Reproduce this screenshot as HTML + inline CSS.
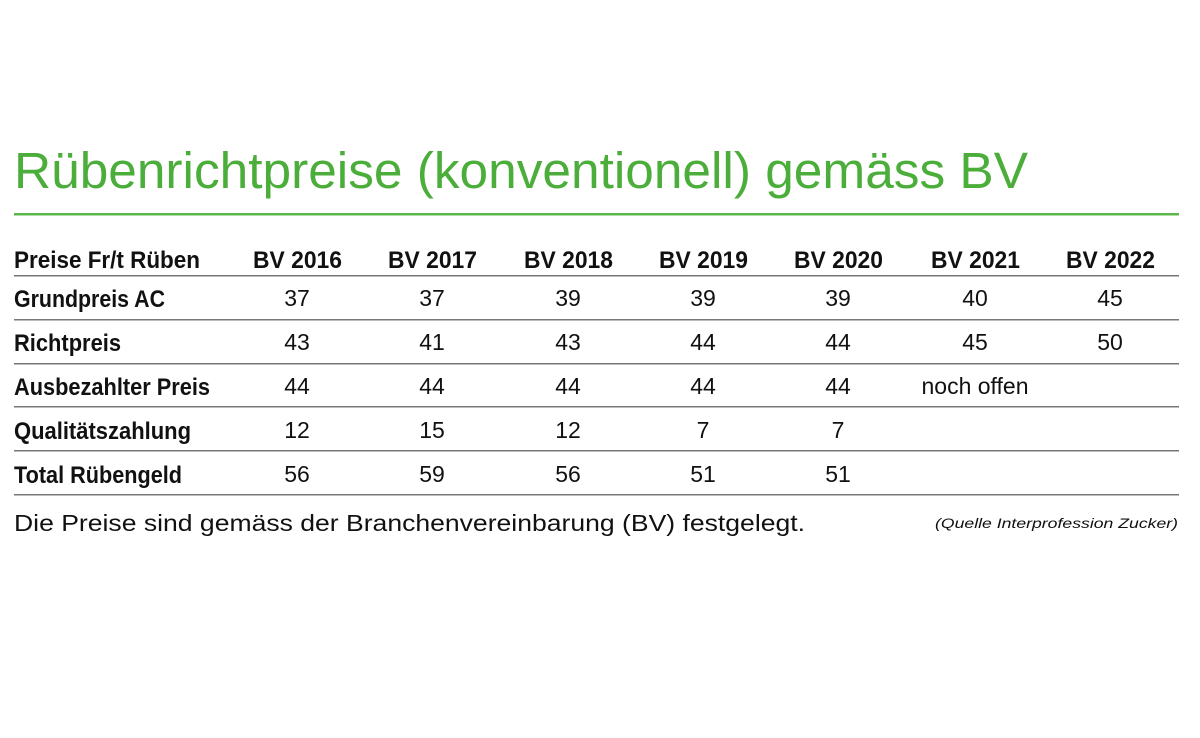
<!DOCTYPE html>
<html><head><meta charset="utf-8"><style>
html,body{margin:0;padding:0;background:#fff;}
svg{display:block;}
text{font-family:"Liberation Sans",sans-serif;}
.h{font-weight:bold;font-size:24px;fill:#111;}
.n{font-size:23px;fill:#111;text-anchor:middle;}
</style></head><body>
<svg width="1200" height="738" viewBox="0 0 1200 738">
<text x="14" y="188" font-size="51" fill="#4bae3a" textLength="1014" lengthAdjust="spacingAndGlyphs">Rübenrichtpreise (konventionell) gemäss BV</text>
<rect x="14" y="213" width="1165" height="2.5" fill="#5cb84a"/>
<g fill="#777">
<rect x="14" y="275" width="1165" height="1.5"/>
<rect x="14" y="319" width="1165" height="1.5"/>
<rect x="14" y="363" width="1165" height="1.5"/>
<rect x="14" y="406" width="1165" height="1.5"/>
<rect x="14" y="450" width="1165" height="1.5"/>
<rect x="14" y="494" width="1165" height="1.5"/>
</g>
<text class="h" x="14" y="268" textLength="186" lengthAdjust="spacingAndGlyphs">Preise Fr/t Rüben</text>
<text class="h" x="253" y="268" textLength="89" lengthAdjust="spacingAndGlyphs">BV 2016</text>
<text class="h" x="388" y="268" textLength="89" lengthAdjust="spacingAndGlyphs">BV 2017</text>
<text class="h" x="524" y="268" textLength="89" lengthAdjust="spacingAndGlyphs">BV 2018</text>
<text class="h" x="659" y="268" textLength="89" lengthAdjust="spacingAndGlyphs">BV 2019</text>
<text class="h" x="794" y="268" textLength="89" lengthAdjust="spacingAndGlyphs">BV 2020</text>
<text class="h" x="931" y="268" textLength="89" lengthAdjust="spacingAndGlyphs">BV 2021</text>
<text class="h" x="1066" y="268" textLength="89" lengthAdjust="spacingAndGlyphs">BV 2022</text>

<text class="h" x="14" y="307" textLength="151" lengthAdjust="spacingAndGlyphs">Grundpreis AC</text>
<text class="h" x="14" y="351" textLength="107" lengthAdjust="spacingAndGlyphs">Richtpreis</text>
<text class="h" x="14" y="395" textLength="196" lengthAdjust="spacingAndGlyphs">Ausbezahlter Preis</text>
<text class="h" x="14" y="439" textLength="177" lengthAdjust="spacingAndGlyphs">Qualitätszahlung</text>
<text class="h" x="14" y="483" textLength="168" lengthAdjust="spacingAndGlyphs">Total Rübengeld</text>

<g>
<text class="n" x="297" y="306">37</text><text class="n" x="432" y="306">37</text><text class="n" x="568" y="306">39</text><text class="n" x="703" y="306">39</text><text class="n" x="838" y="306">39</text><text class="n" x="975" y="306">40</text><text class="n" x="1110" y="306">45</text>
<text class="n" x="297" y="350">43</text><text class="n" x="432" y="350">41</text><text class="n" x="568" y="350">43</text><text class="n" x="703" y="350">44</text><text class="n" x="838" y="350">44</text><text class="n" x="975" y="350">45</text><text class="n" x="1110" y="350">50</text>
<text class="n" x="297" y="394">44</text><text class="n" x="432" y="394">44</text><text class="n" x="568" y="394">44</text><text class="n" x="703" y="394">44</text><text class="n" x="838" y="394">44</text><text class="n" x="975" y="394" textLength="107" lengthAdjust="spacingAndGlyphs">noch offen</text>
<text class="n" x="297" y="438">12</text><text class="n" x="432" y="438">15</text><text class="n" x="568" y="438">12</text><text class="n" x="703" y="438">7</text><text class="n" x="838" y="438">7</text>
<text class="n" x="297" y="482">56</text><text class="n" x="432" y="482">59</text><text class="n" x="568" y="482">56</text><text class="n" x="703" y="482">51</text><text class="n" x="838" y="482">51</text>
</g>
<text x="14" y="531" font-size="23" fill="#111" textLength="791" lengthAdjust="spacingAndGlyphs">Die Preise sind gemäss der Branchenvereinbarung (BV) festgelegt.</text>
<text x="935" y="528" font-size="14" font-style="italic" fill="#111" textLength="243" lengthAdjust="spacingAndGlyphs">(Quelle Interprofession Zucker)</text>
</svg>
</body></html>
